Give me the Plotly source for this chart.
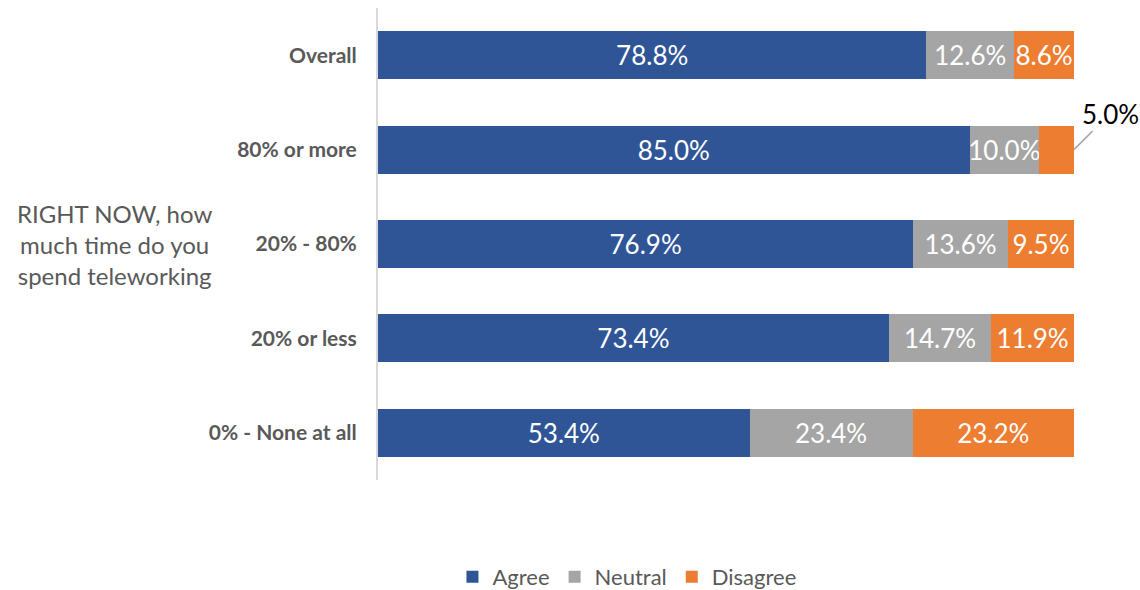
import plotly.graph_objects as go

categories = ["Overall", "80% or more", "20% - 80%", "20% or less", "0% - None at all"]
agree = [78.8, 85.0, 76.9, 73.4, 53.4]
neutral = [12.6, 10.0, 13.6, 14.7, 23.4]
disagree = [8.6, 5.0, 9.5, 11.9, 23.2]
series_names = ["Agree", "Neutral", "Disagree"]
colors = ["#2F5597", "#A5A5A5", "#ED7D31"]
axis_title = "RIGHT NOW, how<br>much time do you<br>spend teleworking"

def labels(vals, hide=None):
    out = []
    for c, v in zip(categories, vals):
        out.append("" if c == hide else f"{v:.1f}%")
    return out

fig = go.Figure()
for name, vals, col, hide in zip(series_names, [agree, neutral, disagree], colors,
                                  [None, None, "80% or more"]):
    fig.add_trace(go.Bar(
        y=categories, x=vals, name=name, orientation="h",
        marker=dict(color=col, line=dict(width=0)),
        text=labels(vals, hide), textposition="inside", insidetextanchor="middle",
        constraintext="none",
        textfont=dict(family="Lato", size=26, color="white"),
        hoverinfo="skip",
    ))

fig.add_annotation(x=agree[1] + neutral[1] + disagree[1], y=categories[1],
                   text=f"{disagree[1]:.1f}%", showarrow=True, arrowhead=0,
                   arrowcolor="#A5A5A5", arrowwidth=1.5, ax=36, ay=-36,
                   font=dict(family="Lato", size=26, color="#000000"))

fig.add_annotation(xref="paper", yref="paper", x=-0.378, y=0.5, xanchor="center",
                   yanchor="middle", text=axis_title, showarrow=False, align="center",
                   font=dict(family="Lato", size=24, color="#595959"))

fig.update_layout(
    barmode="stack", bargap=0.49,
    width=1140, height=590,
    margin=dict(l=378, r=66, t=8, b=110, autoexpand=False),
    paper_bgcolor="white", plot_bgcolor="white",
    showlegend=True,
    legend=dict(orientation="h", x=0.107, xanchor="left", y=-0.2055, yanchor="middle",
                font=dict(family="Lato", size=22, color="#595959"), traceorder="normal",
                itemwidth=30),
    xaxis=dict(range=[0, 100], visible=False, fixedrange=True),
    yaxis=dict(autorange="reversed", showline=True, linecolor="#D9D9D9", linewidth=2,
               ticks="", ticklabelstandoff=15, automargin=False,
               tickfont=dict(family="Lato", size=21, color="#595959", weight="bold")),
    font=dict(family="Lato"),
)

fig.write_html("out.html", config={"displayModeBar": False},
               post_script="document.body.style.margin='0';document.body.style.overflow='hidden';")
